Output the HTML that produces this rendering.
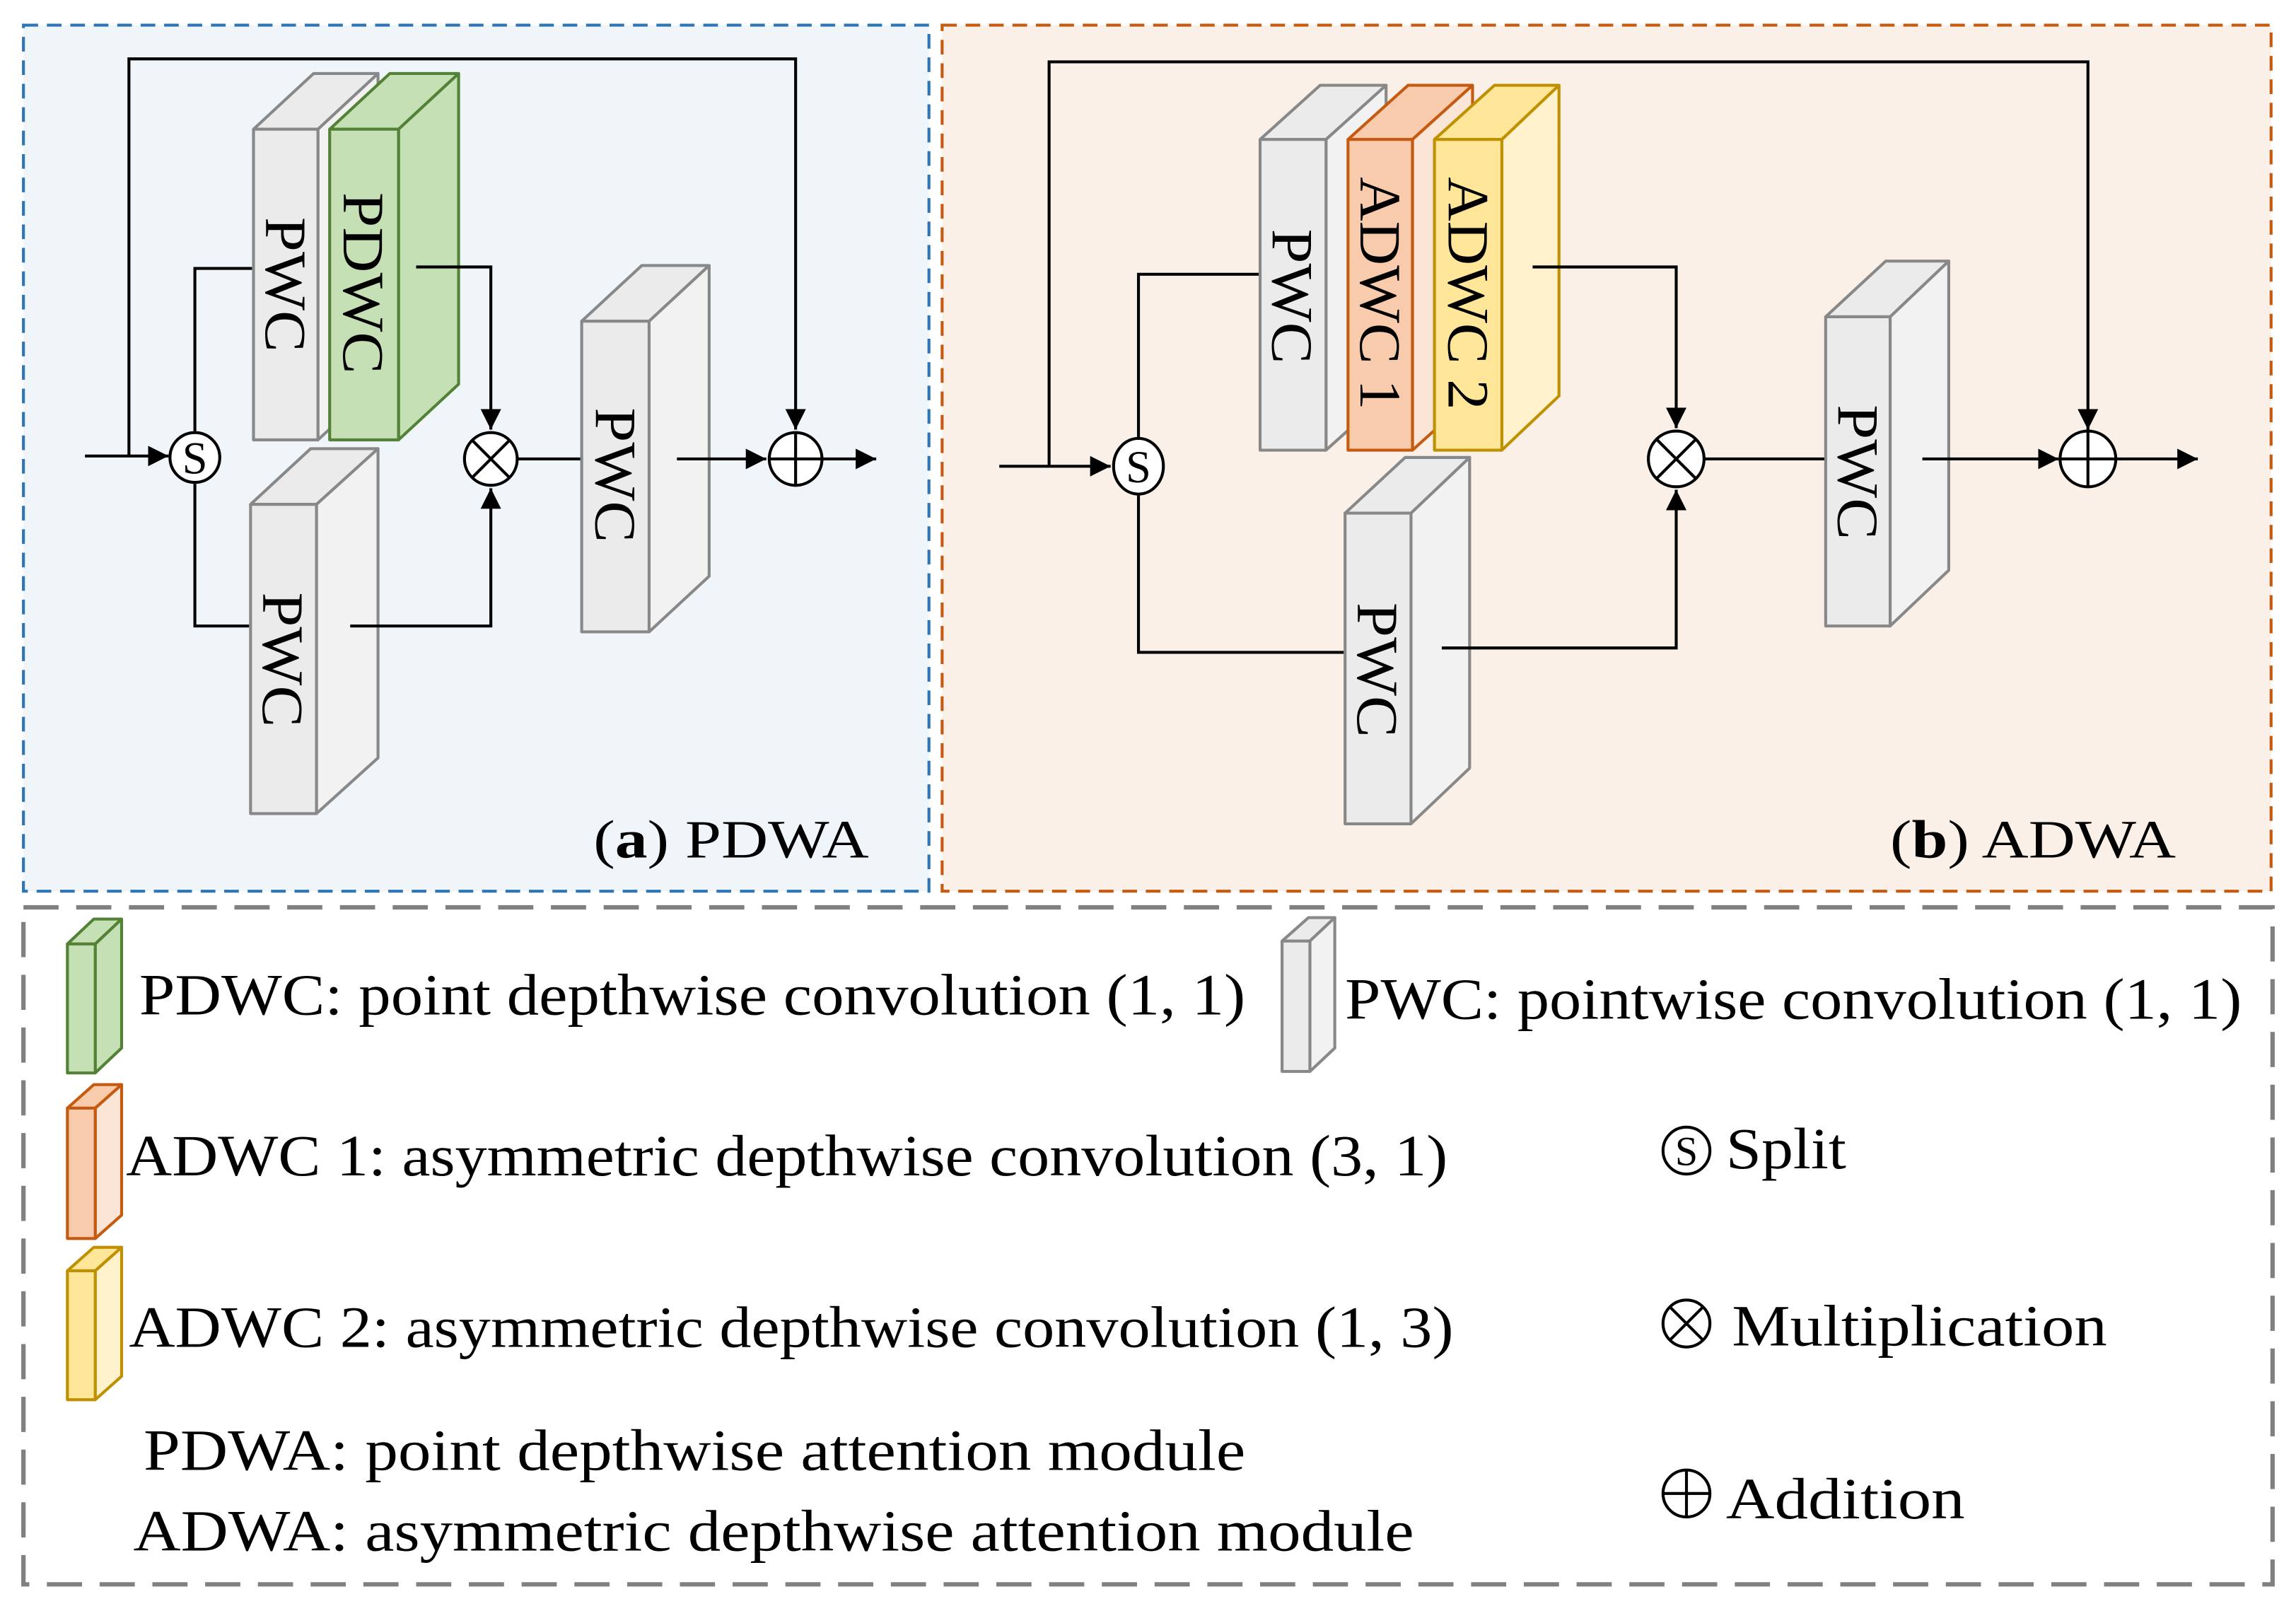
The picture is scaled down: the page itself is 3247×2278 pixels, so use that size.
<!DOCTYPE html>
<html><head><meta charset="utf-8"><style>html,body{margin:0;padding:0;background:#fff}svg{display:block}text{font-family:"Liberation Serif",serif;fill:#000}</style></head>
<body>
<svg width="3247" height="2278" viewBox="0 0 1567 1099" xmlns="http://www.w3.org/2000/svg">
<defs>
<marker id="ar" viewBox="0 0 10 10" refX="10" refY="5" markerWidth="7" markerHeight="7" markerUnits="strokeWidth" orient="auto"><path d="M0,0 L10,5 L0,10 z" fill="#000"/></marker>
</defs>
<rect x="0" y="0" width="1567" height="1099" fill="#fff"/>
<rect x="16" y="17" width="618" height="591" fill="#f0f5fa" stroke="#2e75b6" stroke-width="2" stroke-dasharray="10 6"/>
<rect x="643" y="17" width="907" height="591" fill="#fbf0e8" stroke="#c55a11" stroke-width="2" stroke-dasharray="10 6"/>
<rect x="16" y="619" width="1535" height="462" fill="#fff" stroke="#808080" stroke-width="3" stroke-dasharray="24 12"/>

<g fill="none" stroke="#000" stroke-width="2">
<path d="M88,311 V40 H543 V293" marker-end="url(#ar)"/>
<path d="M58,311 H115" marker-end="url(#ar)"/>
<path d="M133,294 V183 H172"/>
<path d="M133,330 V427 H170"/>
<path d="M353,313 H397"/>
<path d="M561,313 H598" marker-end="url(#ar)"/>
<path d="M716,318 V42 H1425 V293" marker-end="url(#ar)"/>
<path d="M682,318 H758" marker-end="url(#ar)"/>
<path d="M777,300 V187 H860"/>
<path d="M777,336 V445 H918"/>
<path d="M1163,313 H1246"/>
<path d="M1444,313 H1500" marker-end="url(#ar)"/>
</g>

<g stroke-width="2" stroke-linejoin="round">
<g stroke="#888"><polygon points="173,88 214,50 258,50 217,88" fill="#ebebeb"/><polygon points="217,88 258,50 258,262 217,300" fill="#f2f2f2"/><rect x="173" y="88" width="44" height="212" fill="#ebebeb"/></g>
<g stroke="#538135"><polygon points="225,88 266,50 313,50 272,88" fill="#c5e0b4"/><polygon points="272,88 313,50 313,262 272,300" fill="#c5e0b4"/><rect x="225" y="88" width="47" height="212" fill="#c5e0b4"/></g>
<g stroke="#888"><polygon points="171,344 212,306 258,306 216,344" fill="#ebebeb"/><polygon points="216,344 258,306 258,517 216,555" fill="#f2f2f2"/><rect x="171" y="344" width="45" height="211" fill="#ebebeb"/></g>
<g stroke="#888"><polygon points="397,219 438,181 484,181 443,219" fill="#ebebeb"/><polygon points="443,219 484,181 484,393 443,431" fill="#f2f2f2"/><rect x="397" y="219" width="46" height="212" fill="#ebebeb"/></g>
</g>
<g stroke-width="2" stroke-linejoin="round">
<g stroke="#888"><polygon points="860,95 901,58 946,58 905,95" fill="#ebebeb"/><polygon points="905,95 946,58 946,270 905,307" fill="#f2f2f2"/><rect x="860" y="95" width="45" height="212" fill="#ebebeb"/></g>
<g stroke="#c55a11"><polygon points="920,95 961,58 1005,58 964,95" fill="#f8cbad"/><polygon points="964,95 1005,58 1005,270 964,307" fill="#fbe5d6"/><rect x="920" y="95" width="44" height="212" fill="#f8cbad"/></g>
<g stroke="#bf9000"><polygon points="979,95 1020,58 1064,58 1025,95" fill="#ffe699"/><polygon points="1025,95 1064,58 1064,270 1025,307" fill="#fff2cc"/><rect x="979" y="95" width="46" height="212" fill="#ffe699"/></g>
<g stroke="#888"><polygon points="918,350 959,312 1003,312 963,350" fill="#ebebeb"/><polygon points="963,350 1003,312 1003,524 963,562" fill="#f2f2f2"/><rect x="918" y="350" width="45" height="212" fill="#ebebeb"/></g>
<g stroke="#888"><polygon points="1246,216 1287,178 1330,178 1290,216" fill="#ebebeb"/><polygon points="1290,216 1330,178 1330,389 1290,427" fill="#f2f2f2"/><rect x="1246" y="216" width="44" height="211" fill="#ebebeb"/></g>
</g>

<!-- output lines drawn over blocks -->
<g fill="none" stroke="#000" stroke-width="2">
<path d="M284,182 H335 V293" marker-end="url(#ar)"/>
<path d="M239,427 H335 V333" marker-end="url(#ar)"/>
<path d="M462,313 H523" marker-end="url(#ar)"/>
<path d="M1046,182 H1144 V292" marker-end="url(#ar)"/>
<path d="M984,442 H1144 V334" marker-end="url(#ar)"/>
<path d="M1312,313 H1405" marker-end="url(#ar)"/>
</g>

<g font-size="40" text-anchor="middle" dominant-baseline="central">
<text transform="translate(195,194) rotate(90)" textLength="92" lengthAdjust="spacingAndGlyphs">PWC</text>
<text transform="translate(248,193) rotate(90)" textLength="124" lengthAdjust="spacingAndGlyphs">PDWC</text>
<text transform="translate(193,450) rotate(90)" textLength="92" lengthAdjust="spacingAndGlyphs">PWC</text>
<text transform="translate(420,324) rotate(90)" textLength="92" lengthAdjust="spacingAndGlyphs">PWC</text>
<text transform="translate(882,202) rotate(90)" textLength="92" lengthAdjust="spacingAndGlyphs">PWC</text>
<text transform="translate(942,200) rotate(90)" textLength="159" lengthAdjust="spacingAndGlyphs">ADWC 1</text>
<text transform="translate(1002,200) rotate(90)" textLength="159" lengthAdjust="spacingAndGlyphs">ADWC 2</text>
<text transform="translate(940,457) rotate(90)" textLength="92" lengthAdjust="spacingAndGlyphs">PWC</text>
<text transform="translate(1268,322) rotate(90)" textLength="92" lengthAdjust="spacingAndGlyphs">PWC</text>
</g>

<g fill="#fff" stroke="#000" stroke-width="2">
<circle cx="133" cy="312" r="17"/>
<circle cx="335" cy="313" r="18"/>
<path d="M322,300 L348,326 M348,300 L322,326" fill="none"/>
<circle cx="543" cy="313" r="18"/>
<path d="M525,313 H561 M543,295 V331" fill="none"/>
<ellipse cx="777" cy="318" rx="17" ry="19"/>
<circle cx="1144" cy="313" r="19"/>
<path d="M1131,300 L1157,326 M1157,300 L1131,326" fill="none"/>
<circle cx="1425" cy="313" r="19"/>
<path d="M1406,313 H1444 M1425,294 V332" fill="none"/>
</g>
<text x="133" y="323" font-size="31" text-anchor="middle">S</text>
<text x="777" y="329" font-size="31" text-anchor="middle">S</text>

<text x="405" y="585" font-size="37" textLength="188" lengthAdjust="spacingAndGlyphs">(<tspan font-weight="bold">a</tspan>) PDWA</text>
<text x="1290" y="585" font-size="37" textLength="195" lengthAdjust="spacingAndGlyphs">(<tspan font-weight="bold">b</tspan>) ADWA</text>

<g stroke-width="2" stroke-linejoin="round">
<g stroke="#538135"><polygon points="46,644 64,627 83,627 65,644" fill="#c5e0b4"/><polygon points="65,644 83,627 83,715 65,732" fill="#c5e0b4"/><rect x="46" y="644" width="19" height="88" fill="#c5e0b4"/></g>
<g stroke="#c55a11"><polygon points="46,756 64,740 83,740 65,756" fill="#f8cbad"/><polygon points="65,756 83,740 83,829 65,845" fill="#fbe5d6"/><rect x="46" y="756" width="19" height="89" fill="#f8cbad"/></g>
<g stroke="#bf9000"><polygon points="46,867 64,851 83,851 65,867" fill="#ffe699"/><polygon points="65,867 83,851 83,939 65,955" fill="#fff2cc"/><rect x="46" y="867" width="19" height="88" fill="#ffe699"/></g>
<g stroke="#888"><polygon points="875,642 893,626 911,626 894,642" fill="#ebebeb"/><polygon points="894,642 911,626 911,715 894,731" fill="#f2f2f2"/><rect x="875" y="642" width="19" height="89" fill="#ebebeb"/></g>
</g>
<g fill="none" stroke="#000" stroke-width="2">
<circle cx="1151" cy="785" r="16"/>
<circle cx="1151" cy="903" r="16"/>
<path d="M1140,892 L1162,914 M1162,892 L1140,914"/>
<circle cx="1151" cy="1019" r="16"/>
<path d="M1135,1019 H1167 M1151,1003 V1035"/>
</g>
<text x="1151" y="795" font-size="28" text-anchor="middle">S</text>

<g font-size="40">
<text x="95" y="692" textLength="755" lengthAdjust="spacingAndGlyphs">PDWC: point depthwise convolution (1, 1)</text>
<text x="918" y="695" textLength="612" lengthAdjust="spacingAndGlyphs">PWC: pointwise convolution (1, 1)</text>
<text x="86" y="802" textLength="902" lengthAdjust="spacingAndGlyphs">ADWC 1: asymmetric depthwise convolution (3, 1)</text>
<text x="88" y="919" textLength="904" lengthAdjust="spacingAndGlyphs">ADWC 2: asymmetric depthwise convolution (1, 3)</text>
<text x="98" y="1003" textLength="752" lengthAdjust="spacingAndGlyphs">PDWA: point depthwise attention module</text>
<text x="91" y="1058" textLength="874" lengthAdjust="spacingAndGlyphs">ADWA: asymmetric depthwise attention module</text>
<text x="1178" y="797" textLength="82" lengthAdjust="spacingAndGlyphs">Split</text>
<text x="1182" y="918" textLength="256" lengthAdjust="spacingAndGlyphs">Multiplication</text>
<text x="1178" y="1036" textLength="163" lengthAdjust="spacingAndGlyphs">Addition</text>
</g>
</svg>
</body></html>
